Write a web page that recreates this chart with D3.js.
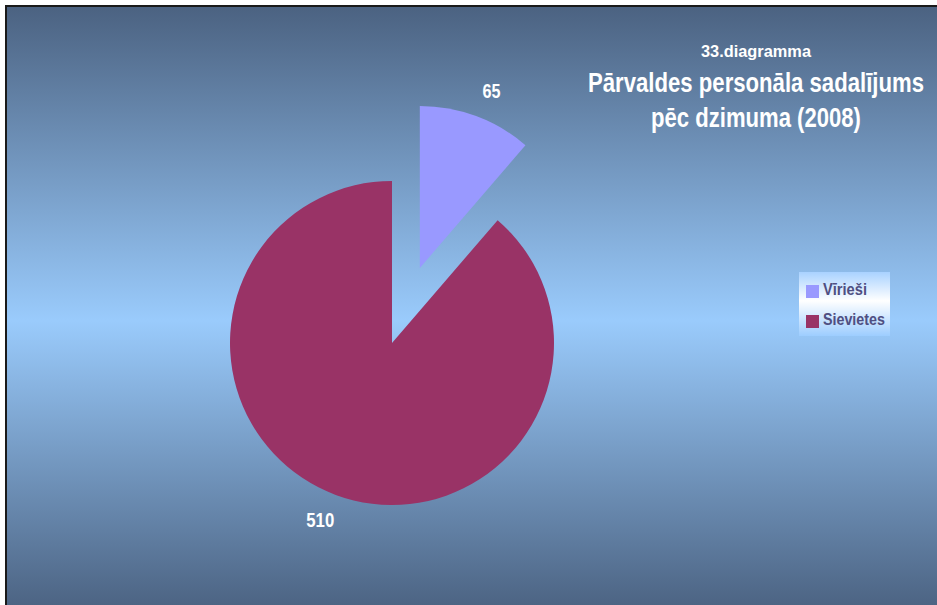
<!DOCTYPE html>
<html>
<head>
<meta charset="utf-8">
<script src="https://cdn.jsdelivr.net/npm/d3@7"></script>
<style>
  html, body { margin: 0; padding: 0; background: #fff; }
  svg { display: block; }
  text { font-family: "Liberation Sans Narrow", "Arial Narrow", "Liberation Sans", Arial, sans-serif; font-weight: bold; }
</style>
</head>
<body>
<svg id="chart" width="937" height="605"></svg>
<script>
// Staff of the administration by gender, 2008
const categories = ["Vīrieši", "Sievietes"];
const values = [65, 510];
const colors = ["#9999FF", "#993366"];
const titleLines = ["33.diagramma", "Pārvaldes personāla sadalījums", "pēc dzimuma (2008)"];

const W = 937, H = 605;
const svg = d3.select("#chart");
const defs = svg.append("defs");

// background: dark slate at the edges, light sky blue in the middle
const bg = defs.append("linearGradient").attr("id", "bg")
  .attr("x1", 0).attr("y1", 0).attr("x2", 0).attr("y2", 1);
bg.append("stop").attr("offset", "0%").attr("stop-color", "#4b6281");
bg.append("stop").attr("offset", "52%").attr("stop-color", "#9acbfc");
bg.append("stop").attr("offset", "100%").attr("stop-color", "#4b6281");

const lg = defs.append("linearGradient").attr("id", "legbg")
  .attr("x1", 0).attr("y1", 0).attr("x2", 0).attr("y2", 1);
lg.append("stop").attr("offset", "0%").attr("stop-color", "#a9d2ff");
lg.append("stop").attr("offset", "45%").attr("stop-color", "#ffffff");
lg.append("stop").attr("offset", "100%").attr("stop-color", "#9dcdff");

svg.append("rect").attr("x", 6).attr("y", 6).attr("width", W).attr("height", H)
  .attr("fill", "url(#bg)").attr("stroke", "#1a1a1a").attr("stroke-width", 2);

// condensed bold text: place at (x, y) and squeeze horizontally to the given width
function narrow(node, x, y, width) {
  const natural = node.getComputedTextLength();
  const sx = natural > 0 ? width / natural : 1;
  d3.select(node).attr("transform", `translate(${x},${y}) scale(${sx},1)`);
}

// pie
const cx = 392, cy = 343, R = 162, explode = 80;
const pie = d3.pie().sort(null).value(d => d)(values);
const arc = d3.arc().innerRadius(0).outerRadius(R);
const labelR = 191, labelShift = 0.03;
const labelWidths = [18, 28];

const g = svg.append("g").attr("transform", `translate(${cx},${cy})`);
const slices = g.selectAll("g.slice").data(pie).join("g")
  .attr("class", "slice")
  .attr("transform", (d, i) => {
    if (i !== 0) return null;
    const a = (d.startAngle + d.endAngle) / 2;
    return `translate(${Math.sin(a) * explode},${-Math.cos(a) * explode})`;
  });

slices.append("path").attr("d", arc).attr("fill", (d, i) => colors[i]);

slices.append("text")
  .attr("text-anchor", "middle")
  .attr("dy", "0.35em")
  .attr("fill", "#ffffff")
  .attr("font-size", 20)
  .text(d => d.value)
  .each(function (d, i) {
    const a = (d.startAngle + d.endAngle) / 2 + labelShift;
    narrow(this, Math.sin(a) * labelR, -Math.cos(a) * labelR, labelWidths[i]);
  });

// title
const titleY = [57, 92, 127], titleSize = [17, 27, 27], titleWidths = [110, 336, 210];
svg.append("g").attr("fill", "#ffffff").attr("text-anchor", "middle")
  .selectAll("text").data(titleLines).join("text")
  .attr("font-size", (d, i) => titleSize[i])
  .text(d => d)
  .each(function (d, i) { narrow(this, 756, titleY[i], titleWidths[i]); });

// legend
const legendWidths = [44, 62];
const legend = svg.append("g");
legend.append("rect").attr("x", 799).attr("y", 272).attr("width", 91).attr("height", 64)
  .attr("fill", "url(#legbg)");
const items = legend.selectAll("g.item").data(categories).join("g")
  .attr("class", "item")
  .attr("transform", (d, i) => `translate(806,${285 + i * 30})`);
items.append("rect").attr("width", 13).attr("height", 13).attr("fill", (d, i) => colors[i]);
items.append("text").attr("font-size", 17)
  .attr("fill", "#4f4f82").text(d => d)
  .each(function (d, i) { narrow(this, 17, 10, legendWidths[i]); });
</script>
</body>
</html>
